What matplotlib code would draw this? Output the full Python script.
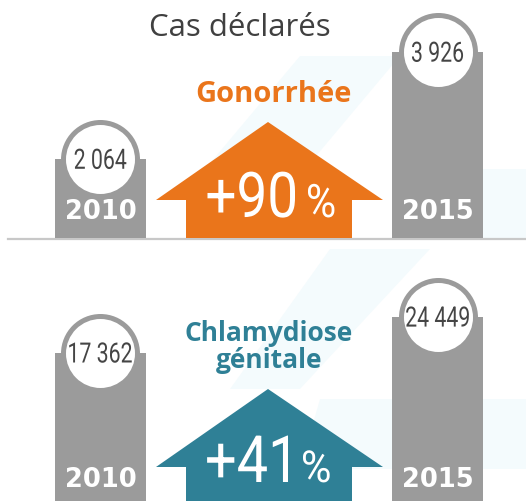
"""Cas déclarés : gonorrhée et chlamydiose génitale, 2010 vs 2015."""
import numpy as np
from matplotlib import pyplot as pl
from matplotlib.patches import Polygon, PathPatch
from matplotlib.textpath import TextPath
from matplotlib.font_manager import FontProperties
from matplotlib.transforms import offset_copy, Affine2D, ScaledTranslation

# Data
years = ["2010", "2015"]
gono_cases = [2064, 3926]
chlam_cases = [17362, 24449]
value_labels_gono = ["2 064", "3 926"]
value_labels_chlam = ["17 362", "24 449"]

GRAY = "#9b9b9b"
ORANGE = "#ea751b"
TEAL = "#2f8096"
DARK = "#454545"

W, H = 526, 502
fig = pl.figure(figsize=(W / 100, H / 100), dpi=100)


def narrow_text(x, y, s, em_px, sx, base, ha="center", va="center",
                color="white", weight="normal", zorder=6):
    """Horizontally squeezed text (no condensed font installed)."""
    tp = TextPath((0, 0), s, size=em_px,
                  prop=FontProperties(family="Roboto", weight=weight))
    ext = tp.get_extents()
    dx = {"center": -(ext.x0 + ext.x1) / 2, "right": -ext.x1,
          "left": -ext.x0}[ha]
    dy = -(ext.y0 + ext.y1) / 2 if va == "center" else 0
    tr = (Affine2D().translate(dx, dy).scale(sx, 1)
          + ScaledTranslation(x, y, base))
    fig.add_artist(PathPatch(tp, transform=tr, facecolor=color,
                             edgecolor="none", zorder=zorder))


# Background / decoration layer in pixel coordinates (y down)
bg = fig.add_axes([0, 0, 1, 1], zorder=0)
bg.set_xlim(0, W)
bg.set_ylim(H, 0)
bg.axis("off")

# faint cyan stripes in the background
for pts in [[(300, 57), (400, 57), (280, 200), (180, 200)],
            [(400, 170), (526, 170), (526, 239), (400, 239)],
            [(330, 250), (430, 250), (300, 390), (230, 390)],
            [(320, 400), (526, 400), (526, 470), (300, 470)]]:
    bg.add_patch(Polygon(pts, closed=True, facecolor="#e4f5fa",
                         edgecolor="none", alpha=0.4))

bg.text(240, 28, "Cas déclarés", ha="center", va="center",
        fontsize=22.5, color="#404040", family="Open Sans")

# baseline of the top panel
bg.plot([8, W], [239.5, 239.5], color="#c8c8c8", lw=1.6, zorder=1)


def up_arrow(ax, apex_y, wing_y, base_y, color):
    pts = [(268, apex_y), (383, wing_y), (352, wing_y), (352, base_y),
           (186, base_y), (186, wing_y), (156, wing_y)]
    ax.add_patch(Polygon(pts, closed=True, facecolor=color,
                         edgecolor="none", zorder=2))


up_arrow(bg, 123, 201, 239, ORANGE)
up_arrow(bg, 390, 468, H + 5, TEAL)


def panel(rect, values, labels, ytop, scale=None):
    ax = fig.add_axes(rect, zorder=1)
    ax.patch.set_alpha(0)
    if scale == "sqrt":
        ax.set_yscale("function",
                      functions=(lambda v: np.sqrt(np.clip(v, 0, None)),
                                 lambda v: np.square(v)))
    x = np.arange(len(values))
    ax.set_xlim(-0.2982, 1.2626)
    ax.set_ylim(0, ytop)
    # dome top sits at the value; circle centre 39.5 px below it
    off = offset_copy(ax.transData, fig=fig, y=-39.5, units="dots")
    bars = ax.bar(x, values, width=0.27, color=GRAY, zorder=2)
    for b in bars:
        b.set_transform(off)
    ax.plot(x, values, "o", ms=79 * 0.72, color=GRAY, mew=0,
            transform=off, zorder=3, clip_on=False)
    ax.plot(x, values, "o", ms=69 * 0.72, color="white", mew=0,
            transform=off, zorder=4, clip_on=False)
    for xi, v, lab in zip(x, values, labels):
        narrow_text(xi, v, lab, 28, 0.76, off, color=DARK)
    for xi, yr in zip(x, years):
        ax.annotate(yr, xy=(xi, 0), xycoords=ax.get_xaxis_transform(),
                    xytext=(0, 27), textcoords="offset pixels",
                    ha="center", va="center", fontsize=18.5,
                    fontweight="bold", color="white", zorder=5)
    ax.axis("off")
    return ax


# top panel: baseline at pixel 239
panel([0, 1 - 239 / H, 1, 239 / H], gono_cases, value_labels_gono, 4157)
# bottom panel: baseline just below the picture (pixel 507)
panel([0, -5 / H, 1, 257 / H], chlam_cases, value_labels_chlam, 30800,
      scale="sqrt")

# disease names and growth
gono_pct = round(100 * (gono_cases[1] - gono_cases[0]) / gono_cases[0])
chlam_pct = round(100 * (chlam_cases[1] - chlam_cases[0]) / chlam_cases[0])

bg.text(273, 95, "Gonorrhée", ha="center", va="center", fontsize=21,
        fontweight="bold", color=ORANGE, family="Open Sans", zorder=3)
bg.text(269, 347, "Chlamydiose\ngénitale", ha="center", va="center",
        fontsize=19, fontweight="bold", color=TEAL, family="Open Sans",
        linespacing=1.0, zorder=3)

narrow_text(295, 218, "+{}".format(gono_pct), 63, 0.87, bg.transData,
            ha="right", va="baseline")
narrow_text(308, 218, "%", 46, 0.9, bg.transData,
            ha="left", va="baseline")
narrow_text(288, 483, "+{}".format(chlam_pct), 65, 0.86, bg.transData,
            ha="right", va="baseline")
narrow_text(303, 483, "%", 44, 0.95, bg.transData,
            ha="left", va="baseline")

pl.savefig("out.png", dpi=100)
pl.close()
